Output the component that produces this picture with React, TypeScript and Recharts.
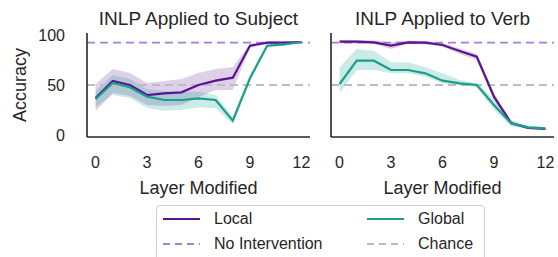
import React from 'react';
import { ComposedChart, Line, Area, XAxis, YAxis, ReferenceLine } from 'recharts';

const layers = [0, 1, 2, 3, 4, 5, 6, 7, 8, 9, 10, 11, 12];

// INLP applied to subject
const subjLocal = [37, 54, 50, 40, 41.7, 42.7, 50, 54.3, 57.3, 89.3, 92.3, 92.3, 93];
const subjLocalLo = [24, 42, 39, 30, 29, 30, 38, 45, 45, 87, 91, 91, 92];
const subjLocalHi = [51, 66, 62, 52, 54, 56, 62, 66, 68, 91, 93.5, 93.5, 94];
const subjGlobal = [36, 52, 47.7, 38.3, 35, 35, 36.7, 35, 14.3, 56.7, 89.3, 90.7, 93];
const subjGlobalLo = [28, 40, 37, 27, 24.3, 25, 27.7, 26.7, 11, 54, 87.5, 89.5, 92];
const subjGlobalHi = [44, 60, 56, 46, 44, 43, 43.3, 40, 18, 59, 91, 92, 94];

// INLP applied to verb
const verbLocal = [93.3, 93.3, 92.7, 89.3, 92.7, 92.3, 90, 84, 78.3, 38.3, 12, 7, 6];
const verbLocalLo = [91.5, 91.5, 91, 86, 91, 90.5, 88.5, 81, 75, 35, 10, 6, 5];
const verbLocalHi = [95, 95, 94.5, 93, 94.5, 94, 92, 86.5, 81, 42, 14, 8, 7];
const verbGlobal = [51, 74.3, 74.3, 65, 65, 61.7, 54.3, 51.7, 50, 30, 11.7, 7.7, 6.7];
const verbGlobalLo = [41.7, 65, 65, 61.7, 61.7, 58.3, 51.7, 49.5, 48, 25, 9, 6, 6];
const verbGlobalHi = [67.7, 86, 84.3, 72.7, 72.7, 67.7, 61.7, 55, 52, 36, 15, 9, 8];

const noIntervention = 92.3;
const chance = 50;
const xTicks = [0, 3, 6, 9, 12];
const yTicks = [0, 50, 100];

const PURPLE = '#5a148f';
const TEAL = '#17a08b';
const LIGHT_PURPLE = '#a77fd0';
const GRAY = '#bdbdbd';
const INK = '#262626';
const FONT = '"Liberation Sans", Arial, sans-serif';

function buildRows(loc: number[], locLo: number[], locHi: number[], glob: number[], globLo: number[], globHi: number[]) {
  return layers.map((layer, i) => ({
    layer,
    local: loc[i],
    global: glob[i],
    localBand: [locLo[i], locHi[i]],
    globalBand: [globLo[i], globHi[i]],
  }));
}

const subjRows = buildRows(subjLocal, subjLocalLo, subjLocalHi, subjGlobal, subjGlobalLo, subjGlobalHi);
const verbRows = buildRows(verbLocal, verbLocalLo, verbLocalHi, verbGlobal, verbGlobalLo, verbGlobalHi);

function YLabel() {
  return (
    <text x={20} y={85} transform="rotate(-90 20 85)" textAnchor="middle" dominantBaseline="central"
      fontSize={18} fill={INK} fontFamily={FONT}>Accuracy</text>
  );
}

function Panel({ rows, first }: { rows: any[]; first: boolean }) {
  const axisLine = { stroke: INK, strokeWidth: 1.6 };
  return (
    <ComposedChart width={first ? 312 : 248} height={200} data={rows}
      margin={{ top: 33, right: first ? 2 : 4, left: first ? 0 : 20, bottom: 3 }}>
      <XAxis dataKey="layer" type="number" domain={[-0.5, 12.5]} ticks={xTicks} allowDataOverflow
        height={60} tickSize={0} tickMargin={20} tickLine={false} axisLine={axisLine}
        tick={{ fontSize: 16, fill: INK, fontFamily: FONT }}
        label={{ value: 'Layer Modified', position: 'insideBottom', offset: 3, fontSize: 18, fill: INK, fontFamily: FONT }} />
      <YAxis type="number" domain={[-2, 102]} ticks={yTicks} allowDataOverflow
        width={first ? 87 : 1} tickSize={0} tickMargin={22} tickLine={false} axisLine={axisLine}
        tick={first ? { fontSize: 16, fill: INK, fontFamily: FONT } : false}
        label={first ? <YLabel /> : undefined} />
      <Area dataKey="localBand" stroke="none" fill={PURPLE} fillOpacity={0.2} isAnimationActive={false} />
      <Area dataKey="globalBand" stroke="none" fill={TEAL} fillOpacity={0.22} isAnimationActive={false} />
      <ReferenceLine y={noIntervention} stroke={LIGHT_PURPLE} strokeWidth={1.8} strokeDasharray="8 5" />
      <ReferenceLine y={chance} stroke={GRAY} strokeWidth={1.8} strokeDasharray="8 5" />
      <Line dataKey="local" stroke={PURPLE} strokeWidth={2.2} dot={false} isAnimationActive={false} />
      <Line dataKey="global" stroke={TEAL} strokeWidth={2.2} dot={false} isAnimationActive={false} />
    </ComposedChart>
  );
}

const legendItems = [
  { name: 'Local', color: PURPLE, dashed: false, x: 6, y: 13 },
  { name: 'Global', color: TEAL, dashed: false, x: 210, y: 13 },
  { name: 'No Intervention', color: LIGHT_PURPLE, dashed: true, x: 6, y: 38 },
  { name: 'Chance', color: GRAY, dashed: true, x: 210, y: 38 },
];

function LegendBox() {
  return (
    <div style={{ position: 'absolute', left: 156, top: 205, width: 327, height: 60, border: '1px solid #d0d0d0', borderRadius: 4, background: '#fff' }}>
      {legendItems.map((it) => (
        <div key={it.name} style={{ position: 'absolute', left: it.x, top: it.y - 10, height: 20, display: 'flex', alignItems: 'center' }}>
          <svg width={38} height={20}>
            <line x1={0} x2={37} y1={10} y2={10} stroke={it.color} strokeWidth={2.2} strokeDasharray={it.dashed ? '7 5' : undefined} />
          </svg>
          <span style={{ marginLeft: 13, fontSize: 16, color: INK, fontFamily: FONT }}>{it.name}</span>
        </div>
      ))}
    </div>
  );
}

const titleStyle: React.CSSProperties = { position: 'absolute', top: 9, fontSize: 19, lineHeight: '19px', color: INK, fontFamily: FONT, textAlign: 'center', whiteSpace: 'nowrap' };

export default function App() {
  return (
    <div style={{ position: 'absolute', left: 0, top: 0, width: 558, height: 257, overflow: 'hidden', background: '#fff' }}>
      <div style={{ ...titleStyle, left: 87, width: 223 }}>INLP Applied to Subject</div>
      <div style={{ ...titleStyle, left: 331, width: 223 }}>INLP Applied to Verb</div>
      <div style={{ position: 'absolute', left: 0, top: 0 }}>
        <Panel rows={subjRows} first />
      </div>
      <div style={{ position: 'absolute', left: 310, top: 0 }}>
        <Panel rows={verbRows} first={false} />
      </div>
      <LegendBox />
    </div>
  );
}
